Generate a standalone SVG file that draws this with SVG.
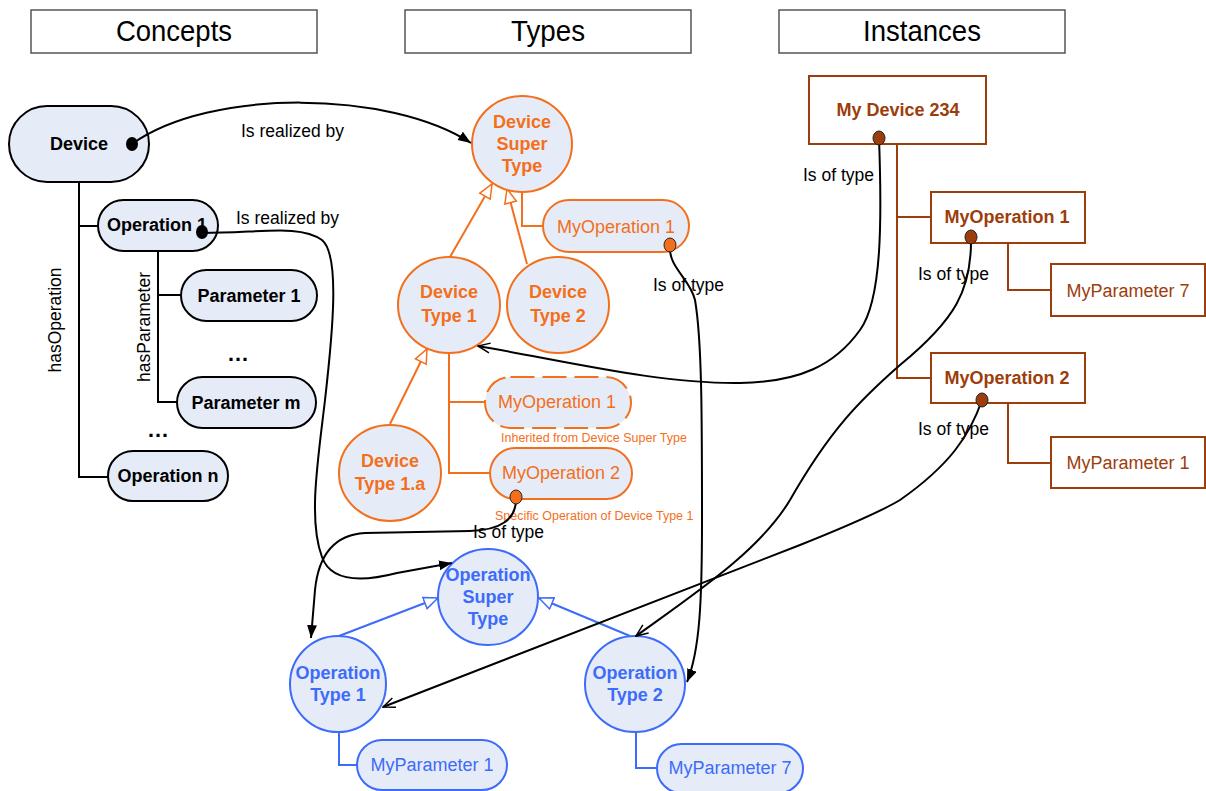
<svg xmlns="http://www.w3.org/2000/svg" width="1206" height="791" viewBox="0 0 1206 791">
<defs>
<style>
text{font-family:"Liberation Sans",Arial,sans-serif}
.hdr{fill:#fff;stroke:#555;stroke-width:1.5}
.hdrt{font-size:29px;text-anchor:middle;fill:#000}
.cn{fill:#e6ecf7;stroke:#000;stroke-width:2}
.cnt{font-size:18px;font-weight:bold;text-anchor:middle;fill:#000}
.tree{fill:none;stroke:#000;stroke-width:2}
.on{fill:#e6ecf7;stroke:#f36f1c;stroke-width:2}
.ont{font-size:18px;font-weight:bold;text-anchor:middle;fill:#f36f1c}
.onn{font-size:18px;text-anchor:middle;fill:#f36f1c}
.otree{fill:none;stroke:#f36f1c;stroke-width:2}
.small{font-size:12.5px;fill:#f36f1c}
.bn{fill:#e6ecf7;stroke:#3d6bfa;stroke-width:2}
.bnt{font-size:18px;font-weight:bold;text-anchor:middle;fill:#3d6bfa}
.bnn{font-size:18px;text-anchor:middle;fill:#3d6bfa}
.btree{fill:none;stroke:#3d6bfa;stroke-width:2}
.in{fill:#fff;stroke:#9c3d0c;stroke-width:2}
.int{font-size:18px;font-weight:bold;text-anchor:middle;fill:#9c3d0c}
.inn{font-size:18px;text-anchor:middle;fill:#9c3d0c}
.itree{fill:none;stroke:#9c3d0c;stroke-width:2}
.conn{fill:none;stroke:#000;stroke-width:2}
.lbl{font-size:17.5px;fill:#000}
.dots{font-size:22px;font-weight:bold;text-anchor:middle;fill:#000}
</style>
<marker id="af" markerWidth="14" markerHeight="12" refX="13" refY="5" orient="auto" markerUnits="userSpaceOnUse">
<path d="M0,0 L13,5 L0,10 z" fill="#000"/>
</marker>
<marker id="ao" markerWidth="14" markerHeight="12" refX="13" refY="6" orient="auto" markerUnits="userSpaceOnUse">
<path d="M1,1 L13,6 L1,11" fill="none" stroke="#000" stroke-width="1.5"/>
</marker>
<marker id="go" markerWidth="16" markerHeight="14" refX="15" refY="7" orient="auto" markerUnits="userSpaceOnUse">
<path d="M1,1 L15,7 L1,13 z" fill="#fff" stroke="#f36f1c" stroke-width="1.5"/>
</marker>
<marker id="gb" markerWidth="16" markerHeight="14" refX="15" refY="7" orient="auto" markerUnits="userSpaceOnUse">
<path d="M1,1 L15,7 L1,13 z" fill="#fff" stroke="#3d6bfa" stroke-width="1.5"/>
</marker>
</defs>
<rect width="1206" height="791" fill="#fff"/>

<g id="headers">
<rect class="hdr" x="31" y="10" width="286" height="43"/>
<text class="hdrt" x="174" y="41" textLength="116" lengthAdjust="spacingAndGlyphs">Concepts</text>
<rect class="hdr" x="405" y="10" width="286" height="43"/>
<text class="hdrt" x="548" y="41" textLength="74" lengthAdjust="spacingAndGlyphs">Types</text>
<rect class="hdr" x="779" y="10" width="286" height="43"/>
<text class="hdrt" x="922" y="41" textLength="118" lengthAdjust="spacingAndGlyphs">Instances</text>
</g>

<g id="concept-tree">
<path class="tree" d="M79,182 V477 H108 M79,226 H98 M158,251 V402 H177 M158,295 H181"/>
<text class="lbl" transform="translate(61,320) rotate(-90)" text-anchor="middle">hasOperation</text>
<text class="lbl" transform="translate(150,327) rotate(-90)" text-anchor="middle">hasParameter</text>
<text class="dots" x="238" y="361">…</text>
<text class="dots" x="158" y="437">…</text>
</g>

<g id="device">
<rect class="cn" x="9" y="106" width="140" height="76" rx="38"/>
<text class="cnt" x="79" y="150">Device</text>
</g>
<g id="operation1">
<rect class="cn" x="98" y="200" width="120" height="51" rx="25.5"/>
<text class="cnt" x="157" y="231">Operation 1</text>
</g>
<g id="parameter1">
<rect class="cn" x="181" y="270" width="136" height="51" rx="25.5"/>
<text class="cnt" x="249" y="302">Parameter 1</text>
</g>
<g id="parameterm">
<rect class="cn" x="177" y="377" width="139" height="51" rx="25.5"/>
<text class="cnt" x="246" y="409">Parameter m</text>
</g>
<g id="operationn">
<rect class="cn" x="108" y="451" width="120" height="50" rx="25"/>
<text class="cnt" x="168" y="482">Operation n</text>
</g>

<g id="types-tree">
<path class="otree" d="M522,192 V226 H543"/>
<path class="otree" d="M449,353 V473 H490 M449,402 H485"/>
<path class="otree" d="M450,257 L492,184" marker-end="url(#go)"/>
<path class="otree" d="M527,264 L507,189" marker-end="url(#go)"/>
<path class="otree" d="M390,424 L427,349" marker-end="url(#go)"/>
</g>
<g id="device-super-type">
<ellipse class="on" cx="522" cy="144" rx="50" ry="48"/>
<text class="ont" x="522" y="128">Device</text>
<text class="ont" x="522" y="150">Super</text>
<text class="ont" x="522" y="172">Type</text>
</g>
<g id="dst-myoperation1">
<rect class="on" x="543" y="200" width="146" height="52" rx="26"/>
<text class="onn" x="616" y="233">MyOperation 1</text>
</g>
<g id="device-type-1">
<ellipse class="on" cx="449" cy="305" rx="51" ry="48"/>
<text class="ont" x="449" y="298">Device</text>
<text class="ont" x="449" y="322">Type 1</text>
</g>
<g id="device-type-2">
<ellipse class="on" cx="558" cy="305" rx="51" ry="48"/>
<text class="ont" x="558" y="298">Device</text>
<text class="ont" x="558" y="322">Type 2</text>
</g>
<g id="device-type-1a">
<ellipse class="on" cx="390" cy="473" rx="51" ry="48"/>
<text class="ont" x="390" y="467">Device</text>
<text class="ont" x="390" y="490">Type 1.a</text>
</g>
<g id="dt1-myoperation1">
<rect class="on" x="485" y="377" width="146" height="51" rx="25.5" stroke-dasharray="24 8"/>
<text class="onn" x="557" y="408">MyOperation 1</text>
<text class="small" x="501" y="442">Inherited from Device Super Type</text>
</g>
<g id="dt1-myoperation2">
<rect class="on" x="490" y="448" width="142" height="51" rx="25.5"/>
<text class="onn" x="561" y="479">MyOperation 2</text>
<text class="small" x="495" y="520">Specific Operation of Device Type 1</text>
</g>

<g id="op-types-tree">
<path class="btree" d="M339,732 V765 H357"/>
<path class="btree" d="M636,732 V768 H657"/>
<path class="btree" d="M339,636 L438,598" marker-end="url(#gb)"/>
<path class="btree" d="M630,636 L539,598" marker-end="url(#gb)"/>
</g>
<g id="operation-super-type">
<ellipse class="bn" cx="488" cy="597" rx="50" ry="48"/>
<text class="bnt" x="488" y="581">Operation</text>
<text class="bnt" x="488" y="603">Super</text>
<text class="bnt" x="488" y="625">Type</text>
</g>
<g id="operation-type-1">
<ellipse class="bn" cx="338" cy="684" rx="48" ry="48"/>
<text class="bnt" x="338" y="679">Operation</text>
<text class="bnt" x="338" y="701">Type 1</text>
</g>
<g id="operation-type-2">
<ellipse class="bn" cx="635" cy="684" rx="50" ry="48"/>
<text class="bnt" x="635" y="679">Operation</text>
<text class="bnt" x="635" y="701">Type 2</text>
</g>
<g id="ot1-myparameter1">
<rect class="bn" x="357" y="740" width="150" height="50" rx="25"/>
<text class="bnn" x="432" y="771">MyParameter 1</text>
</g>
<g id="ot2-myparameter7">
<rect class="bn" x="657" y="744" width="146" height="49" rx="24.5"/>
<text class="bnn" x="730" y="774">MyParameter 7</text>
</g>

<g id="instances-tree">
<path class="itree" d="M897,144 V378 H931 M897,217 H931"/>
<path class="itree" d="M1008,243 V290 H1051"/>
<path class="itree" d="M1008,403 V463 H1051"/>
</g>
<g id="my-device-234">
<rect class="in" x="809" y="76" width="177" height="68"/>
<text class="int" x="898" y="116">My Device 234</text>
</g>
<g id="inst-myoperation1">
<rect class="in" x="931" y="192" width="154" height="51"/>
<text class="int" x="1007" y="223">MyOperation 1</text>
</g>
<g id="inst-myparameter7">
<rect class="in" x="1051" y="264" width="154" height="52"/>
<text class="inn" x="1128" y="297">MyParameter 7</text>
</g>
<g id="inst-myoperation2">
<rect class="in" x="931" y="353" width="154" height="50"/>
<text class="int" x="1007" y="384">MyOperation 2</text>
</g>
<g id="inst-myparameter1">
<rect class="in" x="1051" y="437" width="154" height="51"/>
<text class="inn" x="1128" y="469">MyParameter 1</text>
</g>

<g id="connectors">
<path class="conn" d="M132,144 C210,88 390,90 471,143" marker-end="url(#af)"/>
<path class="conn" d="M202,233 C260,233 300,224 322,240 C340,255 333,330 325,400 C318,460 308,520 322,557 C332,585 370,580 397,573 L452,563" marker-end="url(#af)"/>
<path class="conn" d="M516,497 C517,520 500,530 470,531 L365,533 C330,535 318,560 315,590 L311,638" marker-end="url(#af)"/>
<path class="conn" d="M670,245 C668,268 690,278 695,300 C702,340 702,420 702,520 C702,600 700,650 687,682" marker-end="url(#af)"/>
<path class="conn" d="M879,138 C882,220 882,300 860,330 C835,365 800,382 740,383 C660,384 570,362 478,346" marker-end="url(#ao)"/>
<path class="conn" d="M971,237 C972,290 955,320 900,365 C860,400 830,430 790,500 C760,550 700,590 636,636" marker-end="url(#ao)"/>
<path class="conn" d="M982,400 C970,435 950,465 900,500 C880,512 850,525 800,545 L383,707" marker-end="url(#ao)"/>
<ellipse cx="132" cy="144" rx="6" ry="7" fill="#000"/>
<ellipse cx="202" cy="232" rx="6" ry="7" fill="#000"/>
<ellipse cx="670" cy="245" rx="6" ry="7" fill="#f36f1c" stroke="#222" stroke-width="1"/>
<ellipse cx="516" cy="497" rx="6" ry="7" fill="#f36f1c" stroke="#222" stroke-width="1"/>
<ellipse cx="879" cy="138" rx="6" ry="7" fill="#9c3d0c" stroke="#222" stroke-width="1"/>
<ellipse cx="971" cy="237" rx="6" ry="7" fill="#9c3d0c" stroke="#222" stroke-width="1"/>
<ellipse cx="982" cy="400" rx="6" ry="7" fill="#9c3d0c" stroke="#222" stroke-width="1"/>
<text class="lbl" x="241" y="137">Is realized by</text>
<text class="lbl" x="236" y="224">Is realized by</text>
<text class="lbl" x="653" y="291">Is of type</text>
<text class="lbl" x="803" y="181">Is of type</text>
<text class="lbl" x="918" y="280">Is of type</text>
<text class="lbl" x="918" y="435">Is of type</text>
<text class="lbl" x="473" y="538">Is of type</text>
</g>
</svg>
